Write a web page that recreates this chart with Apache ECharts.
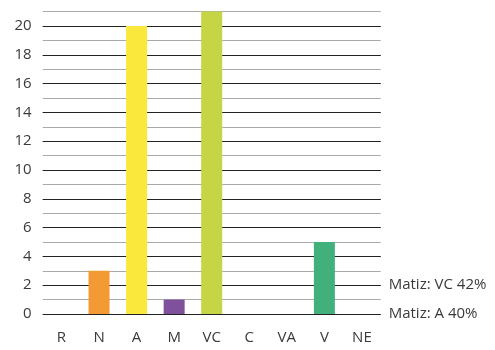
<!DOCTYPE html>
<html><head><meta charset="utf-8">
<script src="https://cdn.jsdelivr.net/npm/echarts@6/dist/echarts.min.js"></script>
<style>html,body{margin:0;padding:0;background:#fff}#c{width:495px;height:350px}</style>
</head><body><div id="c"></div>
<script>
const categories = ['R','N','A','M','VC','C','VA','V','NE'];
const values = [0,3,20,1,21,0,0,5,0];
const barColors = ['#888','#F39A35','#FAE83C','#7F509B','#C6D545','#888','#888','#41B07B','#888'];
const majorTicks = [0,2,4,6,8,10,12,14,16,18,20];
const rightLabels = {0:'Matiz: A 40%', 2:'Matiz: VC 42%'};
const font = 'Open Sans';
const fs = 15;
const chart = echarts.init(document.getElementById('c'));
chart.setOption({
  animation:false,
  grid:{left:42.7,right:114.3,top:11.6,bottom:36},
  xAxis:{type:'category',data:categories,
    axisLine:{show:false},axisTick:{show:false},
    axisLabel:{color:'#3a3a3a',fontSize:fs,fontFamily:font,margin:16}},
  yAxis:[{type:'value',min:0,max:21,interval:1,
    axisLine:{show:false},axisTick:{show:false},
    axisLabel:{color:'#3a3a3a',fontSize:fs,fontFamily:font,margin:11,
      formatter:v=>majorTicks.indexOf(v)>=0?String(v):''},
    splitLine:{lineStyle:{color:'#aaa',width:1.2}}},
   {type:'value',min:0,max:21,interval:1,position:'right',
    axisLine:{show:false},axisTick:{show:false},splitLine:{show:false},
    axisLabel:{color:'#3a3a3a',fontSize:fs,fontFamily:font,margin:8,
      formatter:v=>rightLabels[v]||''}}],
  series:[
   {type:'line',z:1,data:[],
    markLine:{silent:true,symbol:'none',label:{show:false},
      lineStyle:{color:'#222',type:'solid',width:1.2},
      data:majorTicks.map(t=>({yAxis:t}))}},
   {type:'bar',z:5,data:values.map((v,i)=>({value:v,itemStyle:{color:barColors[i]}})),barWidth:21}]
});
</script></body></html>
